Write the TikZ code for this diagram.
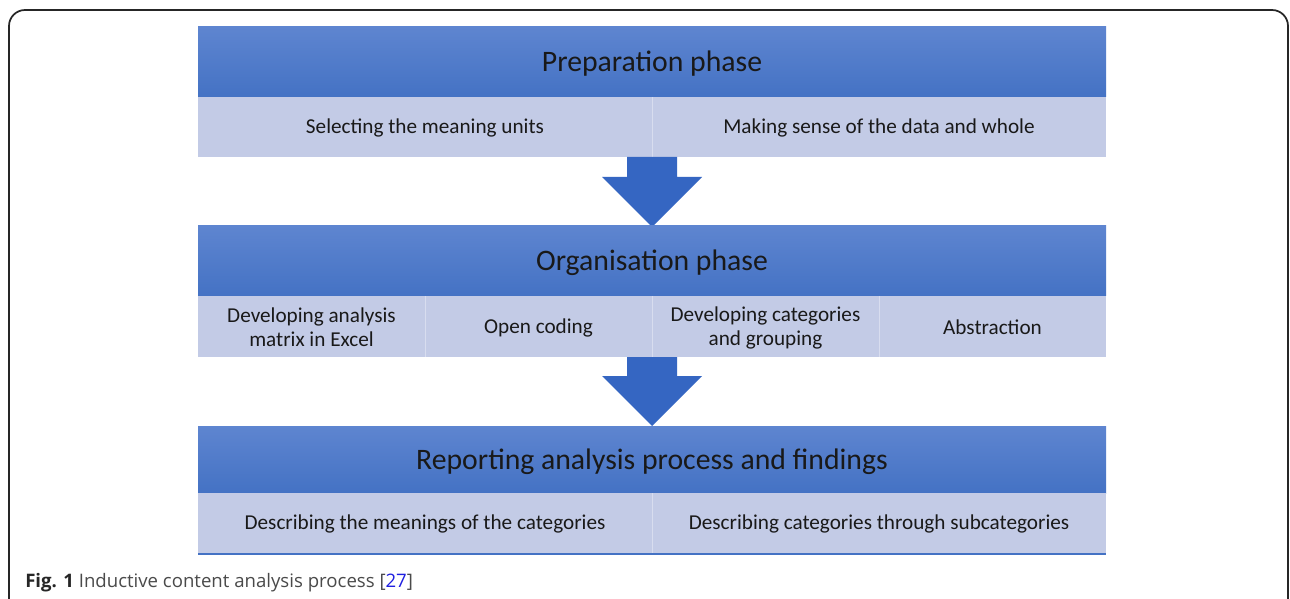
\documentclass[tikz,border=0pt]{standalone}
\usepackage{fontspec}
\setmainfont{Carlito}
\newfontfamily\capfont{Open Sans}
\definecolor{hdtop}{HTML}{5E85D0}
\definecolor{hdbot}{HTML}{4472C4}
\definecolor{subfill}{HTML}{C3CBE6}
\definecolor{arrowblue}{HTML}{3566C2}
\definecolor{captext}{HTML}{4A4A4A}
\definecolor{reflink}{HTML}{1F1FE0}
\tikzset{
  header/.style={top color=hdtop, bottom color=hdbot, draw=none, inner sep=0pt},
  subcell/.style={fill=subfill, draw=none, inner sep=0pt},
  divider/.style={draw=white!35!subfill, line width=0.6pt},
  headtext/.style={font=\fontsize{22.3pt}{26pt}\selectfont, text=black!90},
  subtext/.style={font=\fontsize{15.9pt}{18pt}\selectfont, text=black!90, align=center},
  downarrow/.style={fill=arrowblue, draw=none}
}
\begin{document}
\begin{tikzpicture}[x=0.75pt,y=-0.75pt]
\useasboundingbox (0,0) rectangle (1290,599);
\fill[white] (0,0) rectangle (1290,599);
\begin{scope}
\clip (0,0) rectangle (1290,599);
\draw[line width=1.3pt, black!85, rounded corners=12pt] (9,10) rectangle (1288,660);
\end{scope}

% Preparation phase
\shade[header] (198,27) rectangle (1106,97);
\node[headtext] (prep) at (652,64) {Preparation phase};
\fill[subcell] (198,97) rectangle (1106,157);
\draw[divider] (652,97) -- (652,157);
\node[subtext] (p1) at (425,128) {Selecting the meaning units};
\node[subtext] (p2) at (879,128) {Making sense of the data and whole};

% arrow 1
\fill[downarrow] (627,157) -- (677,157) -- (677,177) -- (702,177) -- (652,227) -- (602,177) -- (627,177) -- cycle;

% Organisation phase
\shade[header] (198,226) rectangle (1106,296);
\node[headtext] (org) at (652,263) {Organisation phase};
\fill[subcell] (198,296) rectangle (1106,357);
\draw[divider] (425,296) -- (425,357);
\draw[divider] (652,296) -- (652,357);
\draw[divider] (879,296) -- (879,357);
\node[subtext] (o1) at (311.5,327.5) {Developing analysis\\matrix in Excel};
\node[subtext] (o2) at (538.5,327.5) {Open coding};
\node[subtext] (o3) at (765.5,327.5) {Developing categories\\and grouping};
\node[subtext] (o4) at (992.5,327.5) {Abstraction};

% arrow 2
\fill[downarrow] (627,357) -- (677,357) -- (677,376) -- (702,376) -- (652,426) -- (602,376) -- (627,376) -- cycle;

% Reporting
\shade[header] (198,426) rectangle (1106,493);
\node[headtext] (rep) at (652,462) {Reporting analysis process and findings};
\fill[subcell] (198,493) rectangle (1106,554);
\draw[divider] (652,493) -- (652,554);
\draw[hdbot, line width=1.4pt] (198,554) -- (1106,554);
\node[subtext] (r1) at (425,523.5) {Describing the meanings of the categories};
\node[subtext] (r2) at (879,523.5) {Describing categories through subcategories};

% caption
\node[anchor=west, inner sep=0pt, font=\capfont\fontsize{13.95pt}{16pt}\selectfont, text=captext] (cap) at (25,583)
  {\textbf{\color{black!85}Fig. 1} Inductive content analysis process [{\color{reflink}27}]};
\end{tikzpicture}
\end{document}
